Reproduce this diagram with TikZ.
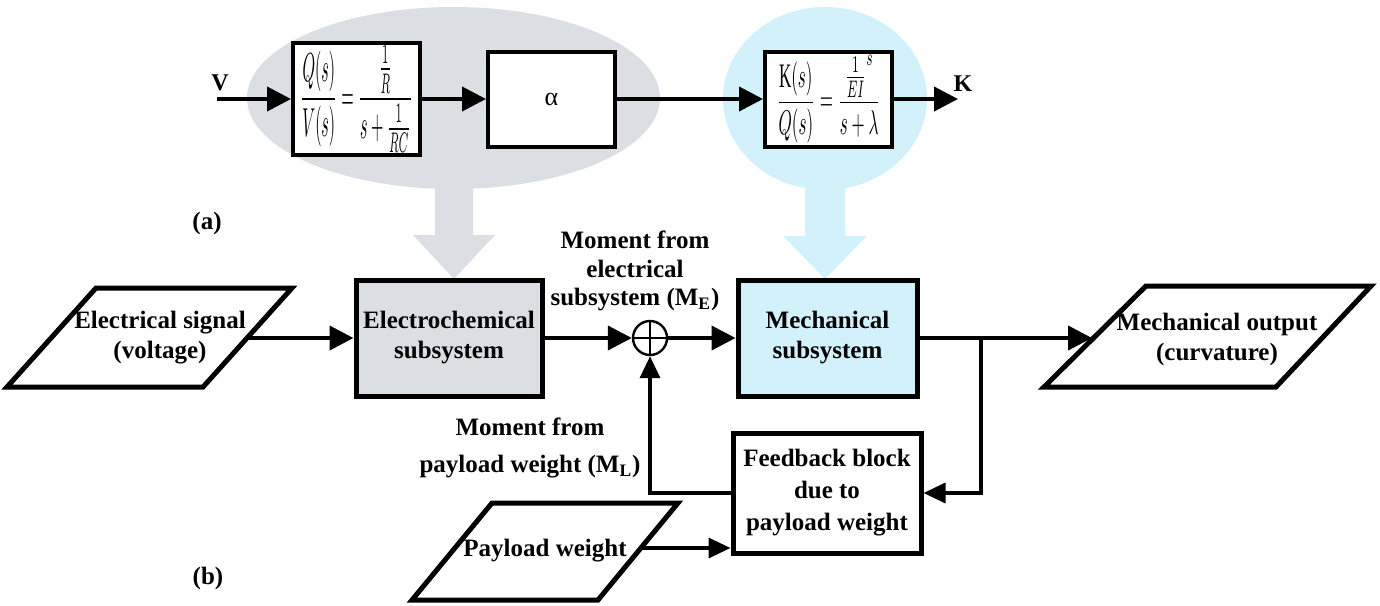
\documentclass[tikz,border=0pt]{standalone}
\usepackage{fontspec}
\setmainfont{Liberation Serif}
\newfontfamily\grk{Liberation Serif}
\usepackage{graphicx}
\usetikzlibrary{arrows.meta}
\definecolor{grayfill}{RGB}{219,222,227}
\definecolor{bluefill}{RGB}{211,241,251}
\tikzset{
  x=0.5pt, y=-0.5pt,
  lbl/.style={font=\bfseries\fontsize{12.5}{15}\selectfont, align=center, inner sep=2pt},
  blk/.style={draw, line width=2.5pt, lbl},
  tbox/.style={draw, line width=2pt, minimum width=63.5pt, minimum height=47.5pt, fill=white, inner sep=1pt},
  pline/.style={draw, line width=2.5pt, fill=white},
  conn/.style={line width=2pt, -{Triangle[length=12pt, width=12pt]}},
  fbline/.style={line width=1.7pt, -{Triangle[length=11pt, width=10pt]}},
}
\begin{document}
\begin{tikzpicture}
\useasboundingbox (0,0) rectangle (1380,605);
% background shapes of (a)
\fill[grayfill] (453.5,98) ellipse [x radius=103.25pt, y radius=45.5pt];
\fill[bluefill] (825,98.5) ellipse [x radius=51pt, y radius=45.75pt];
% block arrows
\fill[grayfill] (435,150) -- (473,150) -- (473,235) -- (495,235) -- (454,279) -- (413,235) -- (435,235) -- cycle;
\fill[bluefill] (805,150) -- (845,150) -- (845,236) -- (867,236) -- (825,279) -- (783,236) -- (805,236) -- cycle;

% ---- (a) top chain
\node[tbox] (b1) at (356.5,99) {\resizebox{56pt}{32pt}{$\displaystyle\frac{Q(s)}{V(s)}=\frac{\frac{1}{R}}{s+\frac{1}{RC}}$}};
\node[tbox] (b2) at (551.5,99) {\fontsize{13}{15}\selectfont\grk α};
\node[tbox] (b3) at (828.5,99) {\resizebox{52pt}{28pt}{$\displaystyle\frac{\mathrm{K}(s)}{Q(s)}=\frac{{\frac{1}{EI}}^{s}}{s+\lambda}$}};
\coordinate (vin) at (217,99);
\coordinate (kout) at (958,99);
\node[lbl, font=\bfseries\fontsize{12}{14}\selectfont] (V) at (220,83) {V};
\node[lbl, font=\bfseries\fontsize{12}{14}\selectfont] (K) at (963,84) {K};
\draw[conn] (vin) -- (b1.west);
\draw[conn] (b1.east) -- (b2.west);
\draw[conn] (b2.east) -- (b3.west);
\draw[conn] (b3.east) -- (kout);

\node[lbl] (la) at (207,223) {(a)};
\node[lbl] (lb) at (208,578) {(b)};

% ---- (b) block diagram
\draw[pline] (7,387) -- (96,288) -- (292,288) -- (203,387) -- cycle;
\node[lbl] (es) at (160,338) {Electrical signal\\(voltage)};
\coordinate (esout) at (248,338);

\node[blk, fill=grayfill, minimum width=93pt, minimum height=58pt] (ecs) at (449,338) {Electrochemical\\subsystem};
\node[circle, draw, line width=1.2pt, minimum size=17pt, inner sep=0pt] (sum) at (650,338) {};
\draw[line width=1.2pt] (sum.north) -- (sum.south) (sum.west) -- (sum.east);
\node[blk, fill=bluefill, minimum width=89.5pt, minimum height=58pt] (mech) at (827.5,338) {Mechanical\\subsystem};

\draw[pline] (1044,387) -- (1146,286) -- (1371,286) -- (1276,387) -- cycle;
\node[lbl] (mo) at (1217,339) {Mechanical output\\(curvature)};
\coordinate (p2in) at (1092,338);
\coordinate (j) at (981,338);

\node[blk, minimum width=94pt, minimum height=60pt, font=\bfseries\fontsize{12.5}{16}\selectfont] (fb) at (827,493) {Feedback block\\due to\\payload weight};

\draw[pline] (412,600) -- (492,503) -- (678,503) -- (598,600) -- cycle;
\node[lbl] (pw) at (545,551) {Payload weight};
\coordinate (p3out) at (640,548);

\node[lbl, font=\bfseries\fontsize{12.5}{14.3}\selectfont] (me) at (635,271) {Moment from\\electrical\\subsystem (M\textsubscript{E})};
\node[lbl, font=\bfseries\fontsize{12.5}{18.5}\selectfont] (ml) at (530,448) {Moment from\\payload weight (M\textsubscript{L})};

\draw[conn] (esout) -- (ecs.west);
\draw[conn] (ecs.east) -- (sum.west);
\draw[conn] (sum.east) -- (mech.west);
\draw[conn] (mech.east) -- (p2in);
\draw[fbline] (j) |- (fb.east);
\draw[fbline] (fb.west) -| (sum.south);
\draw[fbline] (p3out) -- (p3out -| fb.west);
\end{tikzpicture}
\end{document}
